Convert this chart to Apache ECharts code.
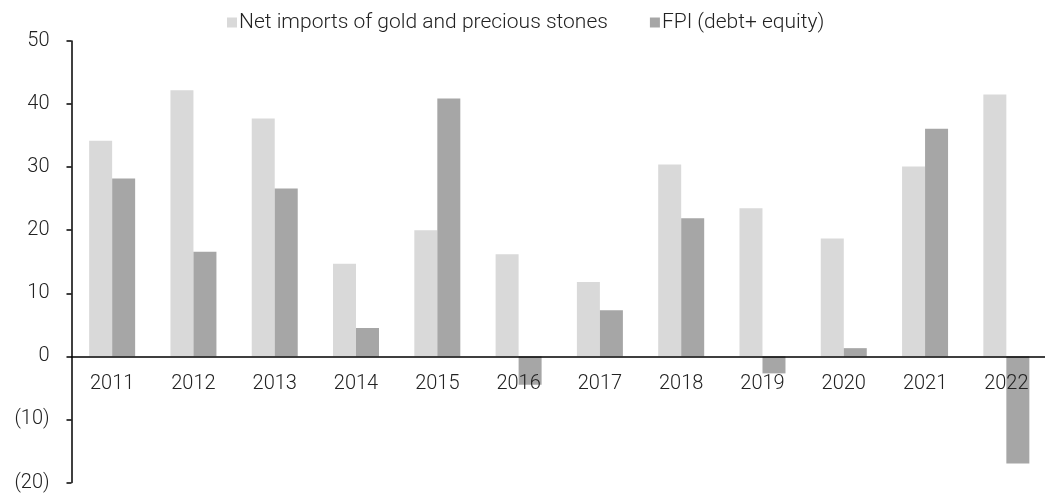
<!DOCTYPE html>
<html>
<head>
<meta charset="utf-8">
<script src="https://cdn.jsdelivr.net/npm/echarts@6/dist/echarts.min.js"></script>
<style>
html,body{margin:0;padding:0;background:#fff;}
#chart{width:1045px;height:495px;}
</style>
</head>
<body>
<div id="chart"></div>
<script>
const categories = ['2011','2012','2013','2014','2015','2016','2017','2018','2019','2020','2021','2022'];
const goldImports = [34.2, 42.2, 37.7, 14.7, 20.0, 16.2, 11.8, 30.4, 23.5, 18.7, 30.1, 41.5];
const fpiFlows = [28.2, 16.6, 26.6, 4.5, 40.9, -4.5, 7.3, 21.9, -2.7, 1.3, 36.1, -17.0];
const seriesNames = ['Net imports of gold and precious stones', 'FPI (debt+ equity)'];
const yMin = -20, yMax = 50, yStep = 10;

const font = 'Roboto, "Liberation Sans", sans-serif';
const chart = echarts.init(document.getElementById('chart'), null, {renderer:'canvas'});
chart.setOption({
  animation: false,
  backgroundColor: '#ffffff',
  textStyle: {fontFamily: font},
  legend: {
    data: seriesNames,
    left: 222,
    top: 7,
    itemWidth: 10,
    itemHeight: 10,
    itemGap: 42,
    icon: 'rect',
    textStyle: {fontFamily: font, fontSize: 21, fontWeight: 300, color: '#222', padding: [0,0,0,-3]}
  },
  grid: {left: 71.5, right: -2, top: 41, bottom: 12.5, containLabel: false, outerBoundsMode: 'none'},
  xAxis: {
    type: 'category',
    data: categories,
    z: 10,
    axisLine: {onZero: false, lineStyle: {color: '#000', width: 1.5}},
    axisTick: {show: false},
    axisLabel: {fontFamily: font, fontSize: 20, fontWeight: 300, color: '#222', margin: 18}
  },
  yAxis: {
    type: 'value',
    min: yMin, max: yMax, interval: yStep,
    splitLine: {show: false},
    axisLine: {show: true, lineStyle: {color: '#000', width: 1.5}},
    axisTick: {show: true, length: 5, lineStyle: {color: '#000', width: 1.5}},
    axisLabel: {
      fontFamily: font, fontSize: 20, fontWeight: 300, color: '#222', margin: 22,
      formatter: v => v < 0 ? '(' + (-v) + ')' : String(v)
    }
  },
  series: [
    {name: seriesNames[0], type: 'bar', data: goldImports, barWidth: 23, barGap: '0%',
     itemStyle: {color: '#D9D9D9'}},
    {name: seriesNames[1], type: 'bar', data: fpiFlows, barWidth: 23, barGap: '0%',
     itemStyle: {color: '#A6A6A6'}}
  ]
});
// move the whole category axis (line + labels) up to the value 0 via the library's scale
const zeroY = chart.convertToPixel({yAxisIndex: 0}, 0);
const bottomY = chart.convertToPixel({yAxisIndex: 0}, yMin);
chart.setOption({xAxis: {offset: -(bottomY - zeroY)}});
</script>
</body>
</html>
